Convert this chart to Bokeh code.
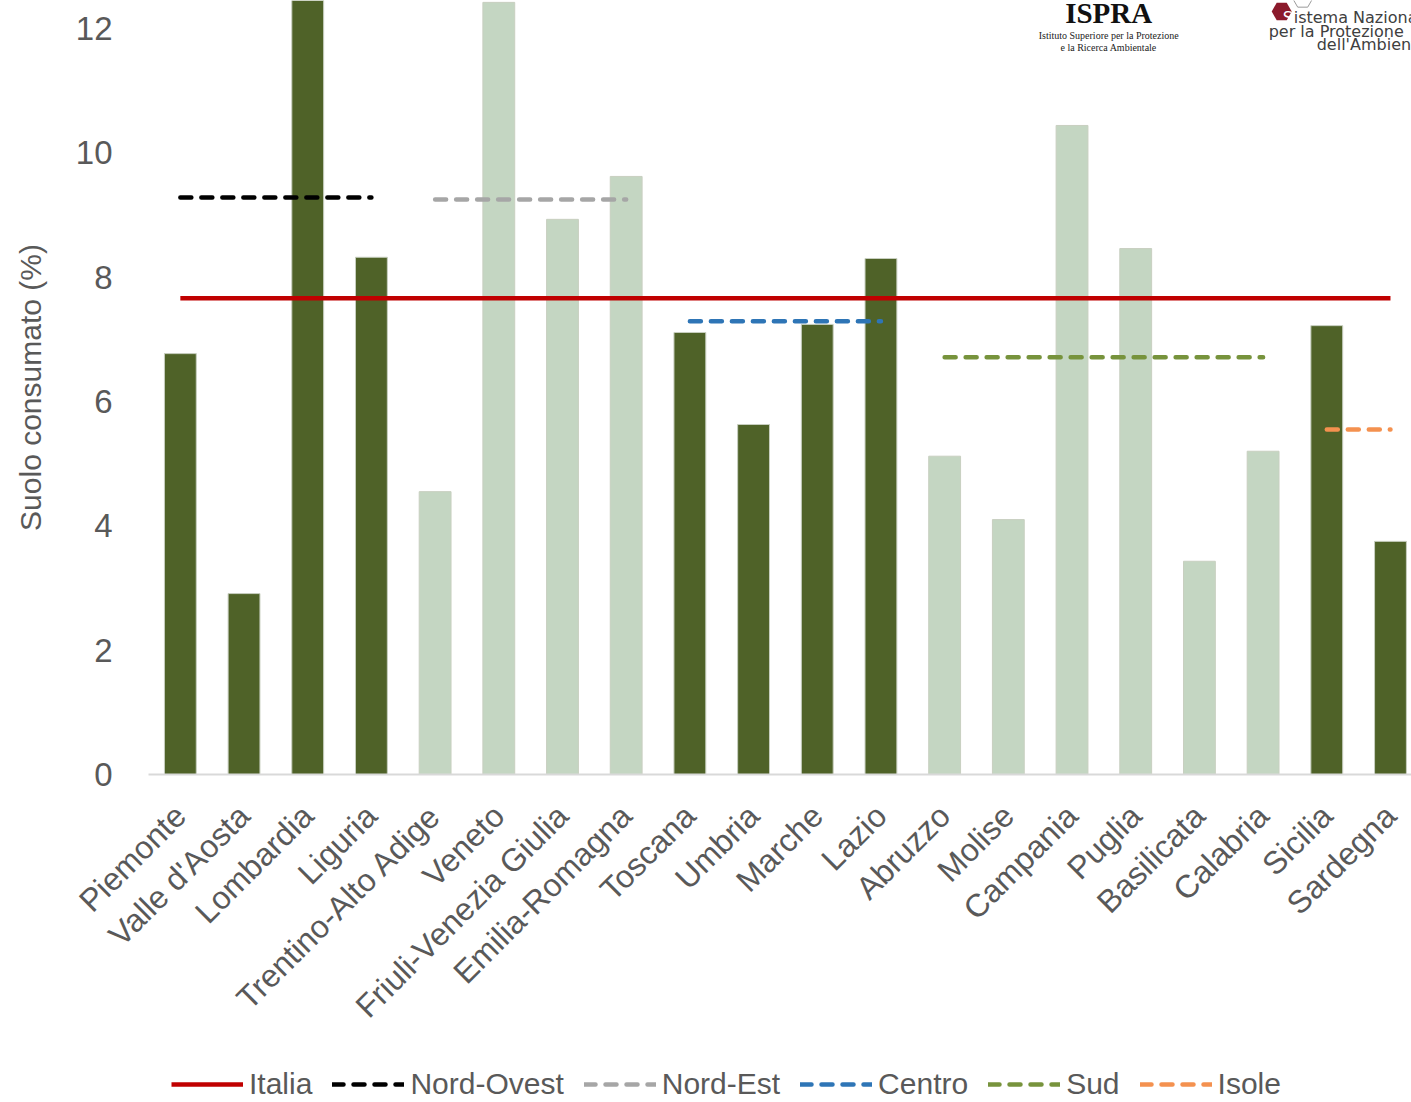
from bokeh.plotting import figure
from bokeh.models import (ColumnDataSource, FixedTicker, Legend, LegendItem,
                          Label, Range1d)
from bokeh.layouts import column
from bokeh.embed import file_html
from bokeh.resources import INLINE
from math import pi

# ---------------- data ----------------
regions = ["Piemonte", "Valle d'Aosta", "Lombardia", "Liguria",
           "Trentino-Alto Adige", "Veneto", "Friuli-Venezia Giulia",
           "Emilia-Romagna", "Toscana", "Umbria", "Marche", "Lazio",
           "Abruzzo", "Molise", "Campania", "Puglia", "Basilicata",
           "Calabria", "Sicilia", "Sardegna"]
suolo = [6.77, 2.91, 12.6, 8.32, 4.55, 12.42, 8.93, 9.62, 7.11, 5.63,
         7.24, 8.30, 5.12, 4.10, 10.44, 8.46, 3.43, 5.20, 7.22, 3.75]
macro = (["Nord-Ovest"] * 4 + ["Nord-Est"] * 4 + ["Centro"] * 4 +
         ["Sud"] * 6 + ["Isole"] * 2)
area_names = ["Nord-Ovest", "Nord-Est", "Centro", "Sud", "Isole"]
area_values = [9.28, 9.25, 7.29, 6.71, 5.55]
italia = 7.66
y_ticks = [0, 2, 4, 6, 8, 10, 12]

# ---------------- styles ----------------
FONT = "Liberation Sans"
GREY = "#595959"
DARK = "#4F6228"
LIGHT = "#C4D6C2"
bar_color_of = {"Nord-Ovest": DARK, "Nord-Est": LIGHT, "Centro": DARK,
                "Sud": LIGHT, "Isole": DARK}
line_color_of = {"Italia": "#C00000", "Nord-Ovest": "#000000",
                 "Nord-Est": "#A6A6A6", "Centro": "#2E75B6",
                 "Sud": "#77933C", "Isole": "#F4914F"}
DASH = "11 10"

xs = [i + 0.5 for i in range(len(regions))]
src = ColumnDataSource(dict(x=xs, top=suolo,
                            color=[bar_color_of[m] for m in macro]))

p = figure(width=1411, height=1058, x_range=Range1d(0, 19.83),
           y_range=Range1d(0, 12.45), output_backend="svg",
           toolbar_location=None, min_border_left=148, min_border_right=0,
           min_border_top=0, min_border_bottom=284)
p.outline_line_color = None
p.xgrid.visible = False
p.ygrid.visible = False
p.background_fill_color = "white"
p.border_fill_color = "white"

p.vbar(x="x", top="top", width=0.5, source=src, fill_color="color",
       line_color="#C8CFC0", line_width=1)

p.line([xs[0], xs[-1]], [italia, italia], line_color=line_color_of["Italia"],
       line_width=4.5)
for name, val in zip(area_names, area_values):
    idx = [i for i, m in enumerate(macro) if m == name]
    x0, x1 = xs[idx[0]], xs[idx[-1]]
    p.line([x0, x1], [val, val], line_color=line_color_of[name],
           line_width=4.5, line_dash=DASH, line_cap="round")

# axes
xa = p.xaxis[0]
xa.ticker = FixedTicker(ticks=xs)
xa.major_label_overrides = {x: r for x, r in zip(xs, regions)}
xa.major_label_orientation = pi / 4
xa.axis_line_color = "#D9D9D9"
xa.axis_line_width = 2
xa.major_tick_line_color = None
xa.minor_tick_line_color = None
xa.major_label_standoff = 30
xa.major_label_text_font = FONT
xa.major_label_text_font_size = "32px"
xa.major_label_text_color = GREY

ya = p.yaxis[0]
ya.ticker = FixedTicker(ticks=y_ticks)
ya.axis_line_color = None
ya.major_tick_line_color = None
ya.minor_tick_line_color = None
ya.major_label_standoff = 30
ya.major_label_text_font = FONT
ya.major_label_text_font_size = "33px"
ya.major_label_text_color = GREY
ya.axis_label = "Suolo consumato (%)"
ya.axis_label_text_font = FONT
ya.axis_label_text_font_size = "30px"
ya.axis_label_text_font_style = "normal"
ya.axis_label_text_color = GREY
ya.axis_label_standoff = 26

# logos (decorative text)
def dx(sx):
    return (sx - 148) / 63.68


def dy(sy):
    return 12.45 - sy / 62.17


p.add_layout(Label(x=dx(1108), y=dy(29), text="ISPRA",
                   text_font="Liberation Serif", text_font_style="bold",
                   text_font_size="29px", text_align="center",
                   text_color="#111111"))
p.add_layout(Label(x=dx(1108), y=dy(40.5),
                   text="Istituto Superiore per la Protezione",
                   text_font="Liberation Serif", text_font_size="10px",
                   text_align="center", text_color="#222222"))
p.add_layout(Label(x=dx(1108), y=dy(52.5), text="e la Ricerca Ambientale",
                   text_font="Liberation Serif", text_font_size="10px",
                   text_align="center", text_color="#222222"))
p.scatter([dx(1302)], [dy(-2)], marker="hex", size=20,
          fill_color=None, line_color="#9A9A9A", line_width=1)
p.scatter([dx(1281)], [dy(11)], marker="hex", size=20,
          fill_color="#8B1A2B", line_color=None)
p.add_layout(Label(x=dx(1282), y=dy(26.5), text="S",
                   text_font="DejaVu Sans", text_font_size="16px",
                   text_color="white"))
p.add_layout(Label(x=dx(1293), y=dy(26.5), text="istema Nazionale",
                   text_font="DejaVu Sans", text_font_size="16px",
                   text_color="#404040"))
p.add_layout(Label(x=dx(1268), y=dy(40.5), text="per la Protezione",
                   text_font="DejaVu Sans", text_font_size="16px",
                   text_color="#404040"))
p.add_layout(Label(x=dx(1316), y=dy(53.5), text="dell'Ambiente",
                   text_font="DejaVu Sans", text_font_size="16px",
                   text_color="#404040"))

# ---------------- legend strip ----------------
lg = figure(width=1411, height=44, x_range=Range1d(0, 1), y_range=Range1d(0, 1),
            output_backend="svg", toolbar_location=None,
            x_axis_location=None, y_axis_location=None,
            min_border_left=0, min_border_right=0, min_border_top=0,
            min_border_bottom=0)
lg.outline_line_color = None
lg.xgrid.visible = False
lg.ygrid.visible = False
items = []
for name in ["Italia"] + area_names:
    # lines kept outside the visible range: only their legend glyphs show
    if name == "Italia":
        r = lg.line([0, 1], [-5, -5], line_color=line_color_of[name],
                    line_width=4.5)
    else:
        r = lg.line([0, 1], [-5, -5], line_color=line_color_of[name],
                    line_width=4.5, line_dash=DASH, line_cap="round")
    items.append(LegendItem(label=name, renderers=[r]))
legend = Legend(items=items, orientation="horizontal", location=(23, 0),
                glyph_width=72, glyph_height=36, label_standoff=6,
                spacing=20, padding=0, margin=0, border_line_color=None,
                background_fill_alpha=0, label_text_font=FONT,
                label_text_font_size="30px", label_text_color=GREY,
                label_height=36)
lg.add_layout(legend, "center")

layout = column(p, lg, spacing=0)
open("out.html", "w").write(file_html(layout, INLINE))
